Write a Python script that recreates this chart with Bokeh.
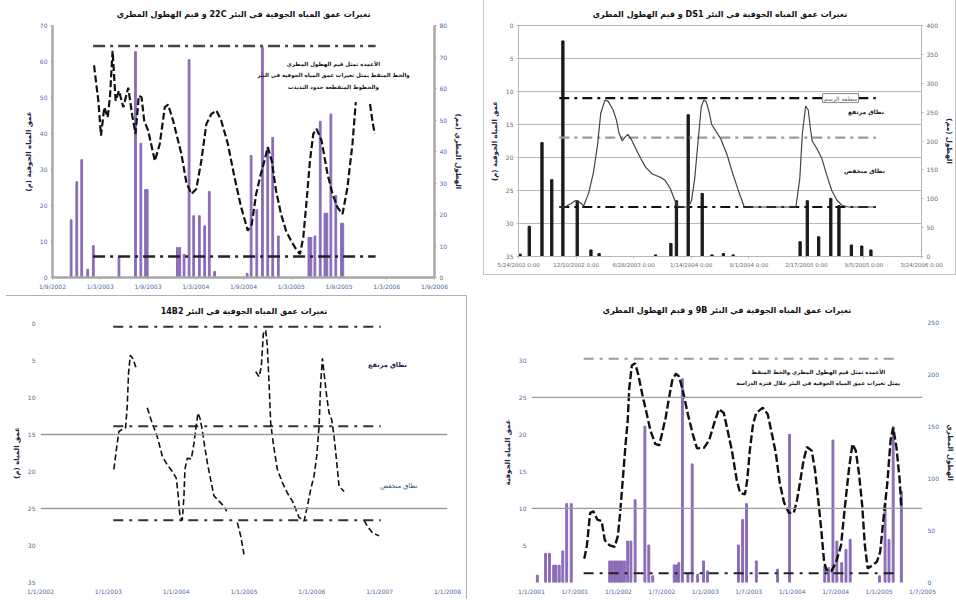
from bokeh.plotting import figure
from bokeh.models import Range1d, LinearAxis, FixedTicker, Label, Span, ColumnDataSource
from bokeh.layouts import column, row
from bokeh.embed import file_html
from bokeh.resources import INLINE

NaN = float("nan")
AR = "DejaVu Sans"


def rtl(s):
    return "\u202B" + s + "\u202C"


# ---------------- Panel 1 (well 22C) ----------------
p1_title = "تغيرات عمق المياه الجوفية في البئر 22C و قيم الهطول المطري"
p1_x_labels = ["1/9/2002", "1/3/2003", "1/9/2003", "1/3/2004", "1/9/2004",
               "1/3/2005", "1/9/2005", "1/3/2006", "1/9/2006"]
p1_left_ticks = [0, 10, 20, 30, 40, 50, 60, 70]
p1_right_ticks = [0, 10, 20, 30, 40, 50, 60, 70, 80]
p1_rain_month = [2.34, 3.05, 3.67, 4.42, 5.13, 8.35, 10.43, 11.10, 11.69, 11.90,
                 15.69, 15.99, 16.53, 17.16, 17.74, 18.45, 19.12, 19.70, 20.37,
                 24.46, 24.96, 25.67, 26.38, 27.05, 27.67, 28.38,
                 32.22, 32.47, 32.97, 33.64, 34.23, 34.48, 34.98, 35.60, 36.31, 36.48]
p1_rain_mm = [18.3, 30.4, 37.4, 2.6, 10.1, 6.4, 71.7, 42.6, 27.9, 27.9,
              9.5, 9.5, 7.4, 69.2, 19.6, 19.6, 16.4, 27.3, 1.9,
              1.3, 38.7, 21.5, 73.1, 41.3, 44.5, 13.2,
              12.7, 12.7, 13.2, 49.6, 20.4, 20.4, 51.9, 26.0, 17.2, 17.2]
p1_depth_month = [5.22, 5.76, 6.09, 6.51, 6.93, 7.22, 7.55, 7.93, 8.35, 8.89,
                  9.52, 10.02, 10.43, 10.85, 11.19, 11.52, 12.02, 12.86, 13.48, 14.11,
                  14.53, 15.15, 16.20, 16.82, 17.45, 18.07, 18.70, 19.33, 19.95, 20.58,
                  21.20, 22.04, 22.87, 23.71, 24.54, 25.04, 25.59, 26.13, 26.63, 27.05,
                  27.55, 28.09, 28.72, 29.34, 29.97, 30.60, 31.10, 31.51, 31.93, 32.35,
                  32.77, 33.18, 33.81, 34.56, 35.19, 35.81, 36.44, 37.06, 37.69, 38.11,
                  NaN, 39.90, 40.19, 40.49]
p1_depth = [58.9, 49.1, 39.4, 47.3, 44.5, 50.1, 63.0, 49.1, 51.9, 47.3,
            52.7, 45.0, 39.9, 50.5, 50.1, 43.6, 40.8, 32.4, 37.1, 47.3,
            48.0, 43.6, 34.3, 26.4, 23.2, 24.6, 32.4, 42.6, 45.4, 46.4,
            43.6, 37.1, 27.8, 19.5, 13.0, 14.8, 23.2, 28.3, 32.4, 36.2,
            32.4, 24.1, 17.6, 13.0, 10.2, 7.9, 6.5, 11.1, 21.3, 32.4,
            39.9, 41.3, 38.0, 28.7, 23.2, 19.5, 17.6, 25.0, 37.1, 48.7,
            NaN, 48.2, 43.6, 39.9]
p1_limits = [64.3, 5.8]
p1_limit_span = [5.1, 40.6]
p1_notes = ["الأعمدة تمثل قيم الهطول المطري",
            "والخط المنقط يمثل تغيرات عمق المياه الجوفية في البئر",
            "والخطوط المتقطعة حدود التذبذب"]

# ---------------- Panel 2 (well DS1) ----------------
p2_title = "تغيرات عمق المياه الجوفية في البئر DS1 و قيم الهطول المطري"
p2_x_labels = ["5/24/2002 0:00", "12/10/2002 0:00", "6/28/2003 0:00", "1/14/2004 0:00",
               "8/1/2004 0:00", "2/17/2005 0:00", "9/5/2005 0:00", "3/24/2006 0:00"]
p2_left_ticks = [0, 5, 10, 15, 20, 25, 30, 35]
p2_right_ticks = [0, 50, 100, 150, 200, 250, 300, 350, 400]
p2_rain_day = [5.7, 37.4, 81.6, 115.6, 154.2, 204.0, 251.7, 280.0, 476.1, 529.4, 548.7, 589.5,
               638.2, 672.2, 711.9, 745.9, 978.3, 1003.2, 1042.9, 1084.9, 1113.2, 1156.3,
               1192.5, 1224.3]
p2_rain_mm = [4.0, 52.3, 197.2, 133.0, 373.3, 96.6, 11.4, 5.1, 2.8, 22.7, 96.6, 245.5,
              109.1, 2.8, 5.1, 2.8, 25.6, 96.6, 34.1, 100.6, 88.1, 19.9, 18.2, 11.4]
p2_depth_day = [141.7, 161.0, 181.4, 198.4, 209.7, 226.7, 243.7, 260.7, 274.3, 285.7,
                300.4, 311.7, 328.7, 340.1, 349.1, 360.5, 368.4, 379.8, 391.1, 408.1,
                425.1, 442.1, 464.8, 493.1, 510.1, 527.1, 544.1, 555.5, 589.5, 600.8,
                612.1, 623.5, 634.8, 643.9, 651.8, 663.2, 671.1, 685.8, 702.8, 725.5,
                742.5, 765.2, 784.4, 963.6, 977.2, 986.2, 997.6, 1006.6, 1014.6, 1020.2,
                1037.2, 1054.2, 1071.2, 1088.2, 1105.3, 1122.3, 1144.9, 1241.3]
p2_depth_m = [27.5, 27.5, 27.0, 26.5, 26.7, 27.3, 25.4, 22.2, 18.2, 13.3,
              11.3, 11.5, 12.8, 14.3, 16.3, 17.5, 17.0, 16.5, 17.2, 18.7,
              20.2, 21.5, 22.5, 23.0, 23.5, 24.7, 26.6, 27.5, 27.5, 26.6,
              23.2, 17.7, 12.3, 11.3, 11.5, 13.3, 15.0, 16.0, 17.2, 19.7,
              22.2, 25.2, 27.5, 27.5, 23.2, 16.3, 12.2, 12.8, 15.8, 17.5,
              18.7, 20.2, 22.7, 25.0, 26.4, 27.2, 27.5, 27.5]
p2_limits = [11.0, 17.0, 27.5]
p2_limit_span = [141.7, 1241.3]
p2_zone_labels = ["نطاق مرتفع", "نطاق منخفض"]
p2_area_label = "منطقة الرسم"

# ---------------- Panel 3 (well 14B2) ----------------
p3_title = "تغيرات عمق المياه الجوفية في البئر 14B2"
p3_x_labels = ["1/1/2002", "1/1/2003", "1/1/2004", "1/1/2005", "1/1/2006", "1/1/2007", "1/1/2008"]
p3_left_ticks = [0, 5, 10, 15, 20, 25, 30, 35]
p3_month = [12.98, 13.57, 13.87, 14.46, 15.05, 15.34, 15.58, 15.88, 16.29, 16.88, NaN,
            18.89, 19.77, 20.66, 21.54, 22.43, 23.31, 24.02, 24.37, 24.67, 25.08,
            25.38, 25.55, 25.97, 26.68, 27.15, 27.44, 27.86, 28.21, 28.62, 29.04,
            29.51, 30.10, 30.69, 31.57, 32.46, 32.93, NaN,
            34.82, 35.41, 36.00, NaN,
            38.07, 38.66, 39.07, 39.42, 39.84, 40.13, 40.43, 40.73, 41.02, 41.43,
            41.90, 42.79, 43.67, 44.56, 45.15, 45.74, 46.62, 47.21, 47.80, 48.39,
            48.87, 49.28, 49.57, 49.87, 50.16, 50.64, 51.05, 51.52, 51.94, 52.41,
            52.82, 53.71, NaN,
            57.25, 57.84, 58.72, 59.90]
p3_depth = [19.7, 16.2, 14.6, 14.3, 14.1, 11.2, 6.7, 4.3, 4.7, 5.9, NaN,
            11.4, 13.5, 15.3, 17.9, 19.1, 20.0, 20.9, 23.3, 26.1, 26.6,
            23.3, 19.7, 18.2, 18.3, 16.2, 14.4, 12.1, 12.8, 14.4, 16.6,
            18.8, 21.1, 23.3, 24.0, 24.7, 25.4, NaN,
            26.9, 28.7, 31.2, NaN,
            6.5, 7.2, 5.8, 1.4, 0.9, 3.1, 8.1, 13.5, 15.3, 17.5,
            19.7, 21.5, 22.9, 24.0, 25.1, 26.2, 26.7, 24.7, 22.4, 20.6,
            17.9, 13.9, 8.1, 4.7, 6.7, 9.9, 12.1, 13.0, 15.3, 18.8,
            22.0, 22.7, NaN,
            26.6, 27.4, 28.3, 28.7]
p3_limits = [0.45, 13.9, 26.6]
p3_limit_span = [12.87, 60.2]
p3_reference = [15, 25]
p3_zone_labels = ["نطاق مرتفع", "نطاق منخفض"]

# ---------------- Panel 4 (well 9B) ----------------
p4_title = "تغيرات عمق المياه الجوفية في البئر 9B و قيم الهطول المطري"
p4_x_labels = ["1/1/2001", "1/7/2001", "1/1/2002", "1/7/2002", "1/1/2003",
               "1/7/2003", "1/1/2004", "1/7/2004", "1/1/2005", "1/7/2005"]
p4_left_ticks = [5, 10, 15, 20, 25, 30]
p4_right_ticks = [0, 50, 100, 150, 200, 250]
p4_rain_month = [0.81, 1.94, 2.48, 3.06, 3.38, 3.83, 4.32, 4.86, 5.49,
                 10.80, 11.12, 11.48, 11.79, 12.15, 12.47, 12.83,
                 13.28, 13.73, 14.31, 15.66, 16.20, 16.74,
                 19.71, 20.03, 20.34, 20.84, 21.60, 22.19, 22.95, 23.76, 24.30,
                 28.58, 29.16, 29.70, 31.05, 33.98, 35.64,
                 40.50, 41.04, 41.63, 42.17, 42.84, 43.43, 44.01,
                 48.06, 48.83, 49.37, 49.95, 51.08]
p4_rain_mm = [7.0, 28.0, 28.0, 16.6, 16.6, 16.6, 30.3, 75.8, 75.8,
              20.7, 20.7, 20.7, 20.7, 20.7, 20.7, 20.7,
              39.8, 39.8, 79.6, 150.3, 36.0, 6.4,
              16.9, 16.9, 19.1, 195.9, 9.6, 114.0, 8.0, 20.7, 11.1,
              36.0, 60.5, 75.8, 20.7, 12.7, 142.4,
              15.9, 14.3, 136.9, 39.8, 19.1, 31.8, 41.4,
              6.4, 76.4, 41.4, 149.7, 87.6]
p4_month = [7.29, 7.65, 8.10, 8.55, 9.09, 9.68, 10.13, 10.80, 11.48, 11.93,
            12.24, 12.60, 12.96, 13.28, 13.50, 13.86, 14.31, 14.76, 15.30, 15.84,
            16.43, 17.10, 17.64, 18.00, 18.54, 18.99, 19.44, 19.94, 20.39, 20.93,
            21.60, 22.28, 22.86, 23.85, 24.53, 25.20, 25.88, 26.55, 27.00, 27.68,
            28.35, 28.80, 29.48, 29.79, 30.15, 30.60, 31.05, 31.95, 32.63, 33.30,
            33.75, 34.29, 34.88, 35.55, 36.23, 36.68, 37.13, 37.58, 38.03, 38.70,
            39.15, 39.60, 40.05, 40.41, 40.73, 41.40, 42.08, 42.75, 43.29, 43.88,
            44.33, 44.78, 45.23, 45.68, 46.04, 46.44, 47.03, 47.70, 48.15, 48.60,
            49.14, 49.59, 49.95, 50.40, 50.85, 51.08]
p4_level = [3.2, 5.0, 9.4, 9.6, 8.5, 8.3, 5.7, 5.0, 4.8, 6.3,
            9.4, 13.8, 18.3, 21.8, 26.2, 29.3, 29.6, 28.0, 25.4, 23.1,
            20.5, 18.7, 18.5, 20.0, 22.3, 24.9, 27.3, 28.2, 27.8, 25.8,
            22.7, 20.0, 18.1, 18.2, 19.2, 21.4, 23.4, 22.9, 20.9, 17.8,
            13.8, 12.1, 11.9, 13.8, 17.8, 21.4, 22.9, 23.6, 22.7, 19.6,
            17.4, 13.4, 10.8, 9.4, 9.4, 11.2, 13.8, 16.5, 18.3, 17.8,
            15.2, 11.2, 6.8, 2.8, 1.7, 1.5, 2.8, 5.0, 10.3, 15.6,
            18.7, 17.8, 14.7, 10.3, 5.0, 1.9, 2.3, 2.8, 4.1, 8.5,
            13.4, 19.2, 20.9, 18.3, 13.8, 9.9]
p4_limits = [30.2, 1.24]
p4_limit_span = [7.2, 50.63]
p4_reference = [25, 10]
p4_notes = ["الأعمدة تمثل قيم الهطول المطري والخط المنقط",
            "يمثل تغيرات عمق المياه الجوفية في البئر خلال فترة الدراسة"]

PURPLE = "#8a6cb8"
TICK_BLUE = "#4a6aa0"


def make_fig(width, height, xr, yr, borders, title, title_gap, margin=None):
    l, r, t, b = borders
    p = figure(width=width, height=height, x_range=xr, y_range=yr,
               output_backend="svg", toolbar_location=None, title=rtl(title),
               min_border_left=l, min_border_right=r, min_border_top=t, min_border_bottom=b,
               background_fill_color="white", border_fill_color="white")
    if margin is not None:
        p.margin = margin
    p.title.align = "center"
    p.title.text_font = AR
    p.title.text_font_size = "8px"
    p.title.text_font_style = "bold"
    p.title.text_color = "#111111"
    p.title.standoff = title_gap
    p.outline_line_color = None
    p.xgrid.visible = False
    p.ygrid.visible = False
    return p


def style_axis(ax, color, line_color, line_width, tick_color):
    ax.major_label_text_font = "DejaVu Sans"
    ax.major_label_text_font_size = "6px"
    ax.major_label_text_color = color
    ax.axis_label_text_font = AR
    ax.axis_label_text_font_size = "7px"
    ax.axis_label_text_font_style = "bold"
    ax.axis_label_text_color = "#222244"
    ax.axis_line_color = line_color
    ax.axis_line_width = line_width
    ax.major_tick_line_color = tick_color
    ax.major_tick_out = 2
    ax.major_tick_in = 0
    ax.minor_tick_line_color = None
    ax.major_label_standoff = 3
    ax.axis_label_standoff = 4


def x_ticks(p, labels, step):
    ticks = [i * step for i in range(len(labels))]
    p.xaxis.ticker = FixedTicker(ticks=ticks)
    p.xaxis.major_label_overrides = {t: lab for t, lab in zip(ticks, labels)}


def limit_lines(p, levels, span, colors, width, dash):
    src = ColumnDataSource(dict(x0=[span[0]] * len(levels), x1=[span[1]] * len(levels),
                                y=levels, c=colors))
    p.segment(x0="x0", y0="y", x1="x1", y1="y", source=src, line_color="c",
              line_width=width, line_dash=dash)


def note(p, x, y, txt, size, color, bold=True, **kw):
    p.add_layout(Label(x=x, y=y, text=rtl(txt), text_align="center", text_baseline="middle",
                       text_font=AR, text_font_size=size, text_color=color,
                       text_font_style="bold" if bold else "normal", **kw))


# ---------- p1 ----------
p1 = make_fig(478, 295, Range1d(0, 48), Range1d(0, 70), (52, 44, 25, 18), p1_title, 14)
p1.extra_y_ranges = {"rain": Range1d(0, 80)}
p1.vbar(x=p1_rain_month, top=p1_rain_mm, width=0.22, bottom=0, y_range_name="rain",
        fill_color=PURPLE, line_color=PURPLE)
limit_lines(p1, p1_limits, p1_limit_span, ["#444444", "#222222"], 2.5, "12 5 3 5")
p1.line(p1_depth_month, p1_depth, line_color="#111111", line_width=2.2, line_dash="7 3")
r1 = LinearAxis(y_range_name="rain", axis_label=rtl("الهطول المطري (مم)"))
p1.add_layout(r1, "right")
p1.yaxis[0].axis_label = rtl("عمق المياه الجوفية (م)")
p1.yaxis[0].ticker = FixedTicker(ticks=p1_left_ticks)
r1.ticker = FixedTicker(ticks=p1_right_ticks)
x_ticks(p1, p1_x_labels, 6)
for ax in [p1.xaxis[0], p1.yaxis[0], r1]:
    style_axis(ax, TICK_BLUE, "#a8a8a8", 2.5, "#a8a8a8")
for i, txt in enumerate(p1_notes):
    note(p1, 35.3, 59.4 - i * 3.2, txt, "5.5px", "#111111")

# ---------- p2 ----------
p2 = make_fig(471, 274, Range1d(0, 1400), Range1d(35, 0), (34, 25, 24, 15), p2_title, 13,
              margin=(0, 1, 21, 6))
p2.styles = {"outline": "1px solid #c4c4c4"}
p2.outline_line_color = "#b8b8b8"
p2.ygrid.visible = True
p2.ygrid.grid_line_color = "#b8b8b8"
p2.ygrid.ticker = FixedTicker(ticks=p2_left_ticks)
p2.extra_y_ranges = {"rain": Range1d(0, 400)}
p2.vbar(x=p2_rain_day, top=p2_rain_mm, width=8, bottom=0, y_range_name="rain",
        fill_color="#1a1a1a", line_color="#1a1a1a")
limit_lines(p2, p2_limits, p2_limit_span, ["#111111", "#9a9a9a", "#111111"], 2.2, "10 5 3 5")
p2.line(p2_depth_day, p2_depth_m, line_color="#444444", line_width=1.2)
r2 = LinearAxis(y_range_name="rain", axis_label=rtl("الهطول (مم)"))
p2.add_layout(r2, "right")
p2.yaxis[0].axis_label = rtl("عمق المياه الجوفية (م)")
p2.yaxis[0].ticker = FixedTicker(ticks=p2_left_ticks)
r2.ticker = FixedTicker(ticks=p2_right_ticks)
x_ticks(p2, p2_x_labels, 200)
for ax in [p2.xaxis[0], p2.yaxis[0], r2]:
    style_axis(ax, "#6a6a6a", "#b8b8b8", 1, "#b8b8b8")
p2.xaxis[0].major_label_text_font_size = "5.5px"
note(p2, 1119, 11.0, p2_area_label, "6px", "#666666", bold=False,
     background_fill_color="white", border_line_color="#888888", padding=1)
note(p2, 1207, 13.0, p2_zone_labels[0], "6px", "#222222")
note(p2, 1202, 22.0, p2_zone_labels[1], "6px", "#222222")

# ---------- p3 ----------
p3 = make_fig(461, 304, Range1d(0, 72), Range1d(35, 0), (35, 19, 26, 18), p3_title, 15,
              margin=(1, 12, 0, 5))
p3.styles = {"box-shadow": "1px -1px 0 0 #b0b0b0"}
for lvl in p3_reference:
    p3.add_layout(Span(location=lvl, dimension="width", line_color="#9c9c9c", line_width=1.3))
limit_lines(p3, p3_limits, p3_limit_span, ["#333333", "#333333", "#333333"], 2, "10 6 3 6")
p3.line(p3_month, p3_depth, line_color="#111111", line_width=1.6, line_dash="6 3")
p3.yaxis[0].axis_label = rtl("عمق المياه (م)")
p3.yaxis[0].ticker = FixedTicker(ticks=p3_left_ticks)
x_ticks(p3, p3_x_labels, 12)
for ax in [p3.xaxis[0], p3.yaxis[0]]:
    style_axis(ax, TICK_BLUE, None, 1, None)
note(p3, 61.4, 5.6, p3_zone_labels[0], "6.5px", "#222244")
note(p3, 63.4, 22.0, p3_zone_labels[1], "6.5px", "#2a4a7f", bold=False)

# ---------- p4 ----------
p4 = make_fig(478, 305, Range1d(0, 54), Range1d(0, 35.1), (53, 25, 27, 16), p4_title, 16)
p4.extra_y_ranges = {"rain": Range1d(0, 250)}
for lvl in p4_reference:
    p4.add_layout(Span(location=lvl, dimension="width", line_color="#9c9c9c", line_width=1.3))
p4.vbar(x=p4_rain_month, top=p4_rain_mm, width=0.26, bottom=0, y_range_name="rain",
        fill_color=PURPLE, line_color=PURPLE)
limit_lines(p4, p4_limits, p4_limit_span, ["#9a9a9a", "#222222"], 2, "10 6 3 6")
p4.line(p4_month, p4_level, line_color="#111111", line_width=2.4, line_dash="8 3")
r4 = LinearAxis(y_range_name="rain", axis_label=rtl("الهطول المطري"))
p4.add_layout(r4, "right")
p4.yaxis[0].axis_label = rtl("عمق المياه الجوفية")
p4.yaxis[0].ticker = FixedTicker(ticks=p4_left_ticks)
r4.ticker = FixedTicker(ticks=p4_right_ticks)
x_ticks(p4, p4_x_labels, 6)
for ax in [p4.xaxis[0], p4.yaxis[0], r4]:
    style_axis(ax, TICK_BLUE, None, 1, None)
for i, txt in enumerate(p4_notes):
    note(p4, 39.6, 28.4 - i * 1.4, txt, "5.5px", "#111111")

layout = column(row(p1, p2), row(p3, p4))
open("out.html", "w").write(file_html(layout, INLINE))
